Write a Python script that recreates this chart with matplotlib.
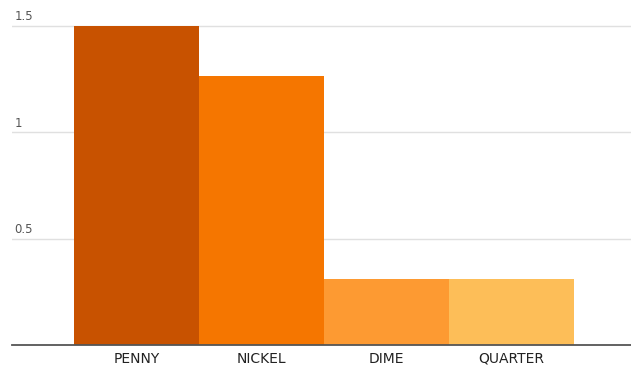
import matplotlib
matplotlib.use("Agg")
import matplotlib.pyplot as plt
import matplotlib.transforms as mtransforms

coins = ["PENNY", "NICKEL", "DIME", "QUARTER"]
values = [1.5, 1.263, 0.31, 0.31]
colors = ["#C85200", "#F57600", "#FD9A32", "#FDBE58"]
y_ticks = [0.5, 1, 1.5]
y_tick_labels = ["0.5", "1", "1.5"]

W, H = 631, 369
fig = plt.figure(figsize=(W / 100, H / 100), dpi=100)
fig.patch.set_facecolor("white")

# baseline at y=345px, 1.5 gridline at y=26px, axes top at y=10px
base_px, top_px, grid15_px = 345, 10, 26
left, bottom = 12 / W, (H - base_px) / H
ax = fig.add_axes([left, bottom, 1 - left, (base_px - top_px) / H])

x = range(len(coins))
ax.bar(x, values, width=1.0, color=colors, edgecolor="none", zorder=3)

ax.set_xlim(-0.996, 3.956)
ax.set_ylim(0, 1.5 * (base_px - top_px) / (base_px - grid15_px))

for s in ["top", "right", "left"]:
    ax.spines[s].set_visible(False)
ax.spines["bottom"].set_color("#555555")
ax.spines["bottom"].set_linewidth(1.3)
ax.spines["bottom"].set_zorder(4)

ax.set_yticks(y_ticks)
ax.set_yticklabels([])
ax.tick_params(axis="y", length=0)
ax.grid(axis="y", color="#e0e0e0", linewidth=1.0, zorder=1)

trans = mtransforms.blended_transform_factory(ax.transAxes, ax.transData)
for v, lab in zip(y_ticks, y_tick_labels):
    ax.text(0.004, v + 0.012, lab, transform=trans, ha="left", va="bottom",
            fontsize=8.5, color="#555555", family="DejaVu Sans")

ax.set_xticks(list(x))
ax.set_xticklabels(coins, fontsize=10, color="#222222", family="DejaVu Sans")
ax.tick_params(axis="x", length=0, pad=5)

fig.savefig("out.png", dpi=100, facecolor="white")
